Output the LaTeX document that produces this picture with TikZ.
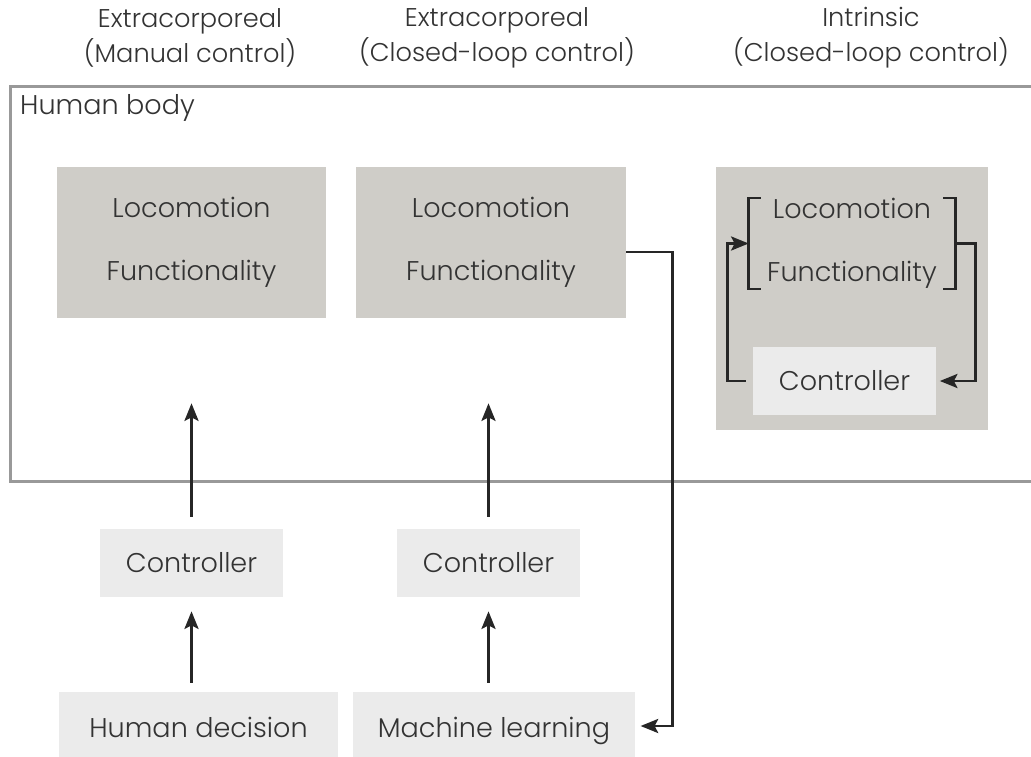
\documentclass[tikz,border=0pt]{standalone}
\usepackage{fontspec}
\setmainfont{Poppins Light}
\usetikzlibrary{arrows.meta}
\definecolor{boxdark}{HTML}{CFCDC8}
\definecolor{boxlight}{HTML}{EBEBEB}
\definecolor{txtgray}{HTML}{333333}
\begin{document}
\begin{tikzpicture}[x=0.02cm, y=-0.02cm,
   every node/.style={text=txtgray, font=\fontsize{15.4}{20}\selectfont},
   funcbox/.style={fill=boxdark, inner sep=0pt, align=center,
      font=\fontsize{15.4}{36}\selectfont},
   ctrlbox/.style={fill=boxlight, inner sep=0pt, minimum width=3.66cm, minimum height=1.36cm},
   arr/.style={-{Stealth[length=10pt, width=8pt, inset=2pt]}, line width=1.5pt, draw=black!85}]
   \useasboundingbox (0,0) rectangle (1031,757);

   % Column titles
   \node[align=center, font=\fontsize{14.6}{20}\selectfont] (t1) at (190,38)
      {Extracorporeal\\(Manual control)};
   \node[align=center, font=\fontsize{14.6}{20}\selectfont] (t2) at (497,38)
      {Extracorporeal\\(Closed-loop control)};
   \node[align=center, font=\fontsize{14.6}{20}\selectfont] (t3) at (871,38)
      {Intrinsic\\(Closed-loop control)};

   % Human body frame
   \node[draw=black!40, line width=1.5pt, anchor=north west, minimum width=20.7cm,
      minimum height=7.9cm] (body) at (9,85) {};
   \node[anchor=west] (bodylbl) at (14,108) {Human body};

   % Extracorporeal, manual control
   \node[funcbox, minimum width=5.38cm, minimum height=3.02cm] (loco1) at (191.5,242.5)
      {Locomotion\\Functionality};
   \node[ctrlbox] (ctrl1) at (191.5,563) {Controller};
   \node[fill=boxlight, minimum width=5.58cm, minimum height=1.36cm, inner sep=0pt]
      (human) at (198.5,726) {};
   \node[anchor=base] (humanlbl) at (198.5,737) {Human decision};
   \draw[arr, shorten <=0.24cm, shorten >=1.7cm] (ctrl1) -- (loco1);
   \draw[arr, shorten <=0.18cm, shorten >=0.28cm] (ctrl1.south |- human.north) -- (ctrl1.south);

   % Extracorporeal, closed-loop control
   \node[funcbox, minimum width=5.4cm, minimum height=3.02cm] (loco2) at (491,242.5)
      {Locomotion\\Functionality};
   \node[ctrlbox] (ctrl2) at (488.5,563) {Controller};
   \node[fill=boxlight, minimum width=5.64cm, minimum height=1.36cm, inner sep=0pt]
      (ml) at (494,726) {};
   \node[anchor=base] (mllbl) at (494,737) {Machine learning};
   \draw[arr, shorten <=0.24cm, shorten >=1.7cm] (ctrl2.north) -- (ctrl2.north |- loco2.south);
   \draw[arr, shorten <=0.18cm, shorten >=0.28cm] (ctrl2.south |- ml.north) -- (ctrl2.south);
   \draw[arr, shorten >=3pt] ([yshift=-0.19cm]loco2.east) -- ++(46,0) |- (ml.east);

   % Intrinsic, closed-loop control
   \node[fill=boxdark, minimum width=5.44cm, minimum height=5.26cm, inner sep=0pt]
      (intr) at (852,298.5) {};
   \node[align=center, inner sep=0pt, minimum width=4.12cm, minimum height=1.78cm,
      font=\fontsize{15.4}{36}\selectfont] (inloco) at (852,243.5) {Locomotion\\Functionality};
   \draw[line width=1.5pt, draw=black!85] ([xshift=0.24cm]inloco.north west) -- (inloco.north west)
      -- (inloco.south west) -- ++(12,0);
   \draw[line width=1.5pt, draw=black!85] ([xshift=-0.24cm]inloco.north east) -- (inloco.north east)
      -- (inloco.south east) -- ++(-12,0);
   \node[ctrlbox] (ctrl3) at (844.5,381) {Controller};
   \draw[arr, shorten >=2pt] (inloco.east) -- ++(20,0) |- (ctrl3.east);
   \draw[arr, shorten <=0.14cm] (ctrl3.west) -- ++(-25,0) |- (inloco.west);
\end{tikzpicture}
\end{document}
